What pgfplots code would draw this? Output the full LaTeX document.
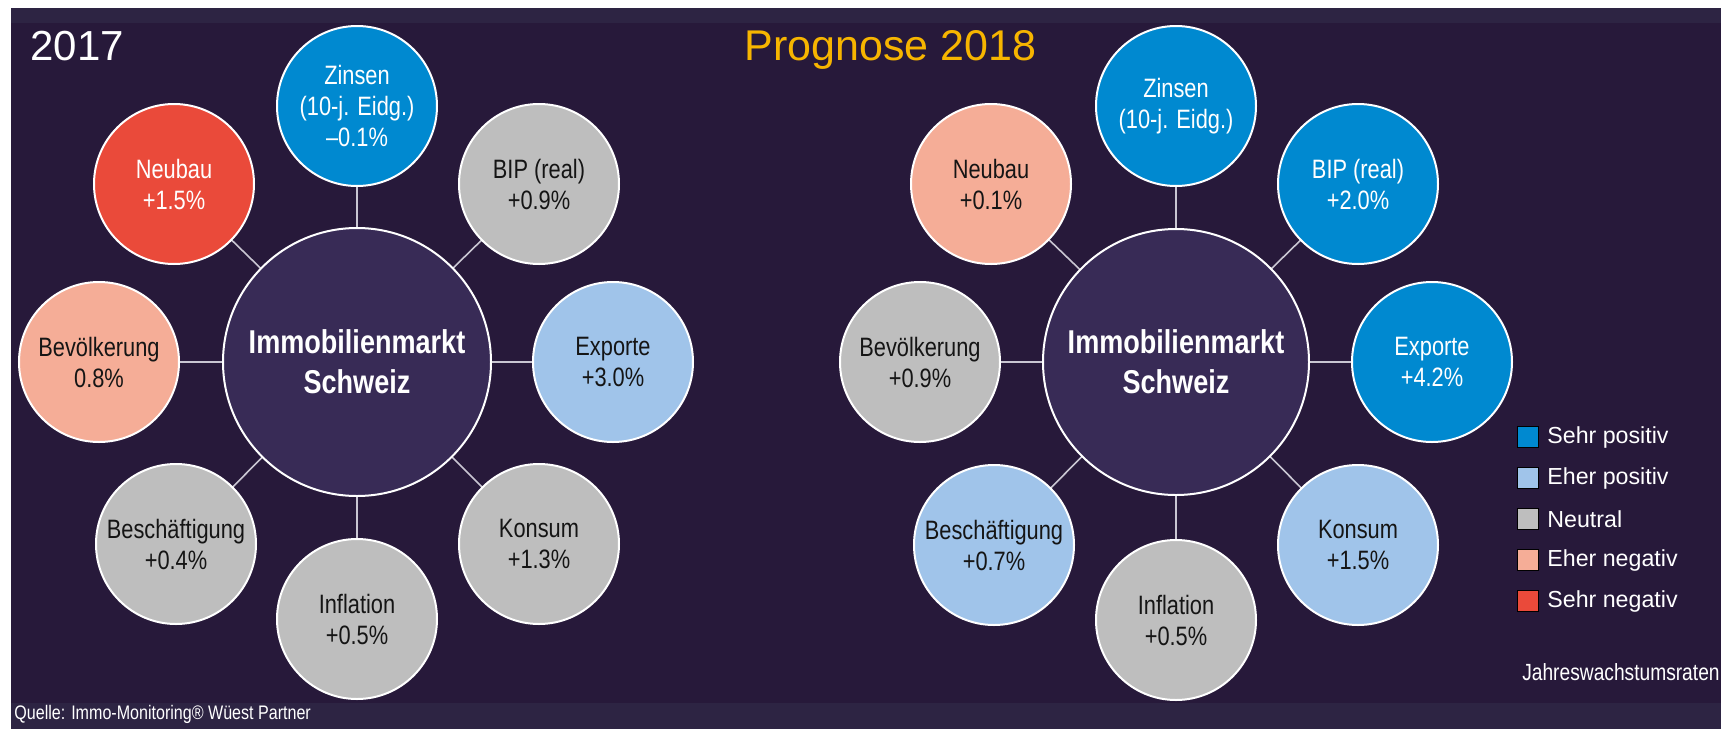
\documentclass[border=0pt]{standalone}
\usepackage{fontspec}
\setmainfont{Liberation Sans}
\newfontfamily\cond{Liberation Sans}[FakeStretch=0.82]
\usepackage{pgfplots}
\pgfplotsset{compat=1.18}
\definecolor{bg}{HTML}{27193A}
\definecolor{band}{HTML}{2D2443}
\definecolor{hub}{HTML}{382B56}
\definecolor{sehrpos}{HTML}{0089D0}
\definecolor{eherpos}{HTML}{A0C4EA}
\definecolor{neutral}{HTML}{BEBEBE}
\definecolor{eherneg}{HTML}{F5AD97}
\definecolor{sehrneg}{HTML}{EA4A3A}
\definecolor{prog}{HTML}{F7B500}
\definecolor{linec}{HTML}{C9C6D2}
\definecolor{dark}{HTML}{151515}
\newcommand{\sat}[5]{%
  \addplot[only marks, mark=*, mark size=40pt, mark options={fill=#3, draw=white, line width=1pt}] coordinates {(#1,#2)};
  \node[text=#4, align=center, font=\cond\fontsize{13.3}{15.5}\selectfont] at (axis cs:#1,#2) {#5};
}
\newcommand{\spoke}[4]{%
  \addplot[linec, line width=0.8pt] coordinates {(#1,#2) (#3,#4)};
}
\newcommand{\legitem}[3]{%
  \addplot[only marks, mark=square*, mark size=5.2pt, mark options={fill=#2, draw=none}] coordinates {(1527.5,#1)};
  \node[anchor=west, text=white, font=\fontsize{11.6}{13}\selectfont, inner sep=0pt] at (axis cs:1547,#1) {#3};
}
\begin{document}
\begin{tikzpicture}
\begin{axis}[
  width=860.5pt, height=364.5pt, scale only axis,
  xmin=0, xmax=1721, ymin=0, ymax=729, y dir=reverse,
  axis line style={draw=none}, ticks=none, clip=false, clip marker paths=true,
]
% backgrounds
\addplot[fill=white, draw=none] coordinates {(0,0) (1721,0) (1721,729) (0,729)} -- cycle;
\addplot[fill=bg, draw=none] coordinates {(11,8) (1721,8) (1721,729) (11,729)} -- cycle;
\addplot[fill=band, draw=none] coordinates {(11,8) (1721,8) (1721,23) (11,23)} -- cycle;
\addplot[fill=band, draw=none] coordinates {(11,703) (1721,703) (1721,729) (11,729)} -- cycle;

% ---------- 2017 ----------
\spoke{357}{362}{357}{106}
\spoke{357}{362}{174}{184}
\spoke{357}{362}{539}{184}
\spoke{357}{362}{99}{362}
\spoke{357}{362}{613}{362}
\spoke{357}{362}{176}{544}
\spoke{357}{362}{539}{544}
\spoke{357}{362}{357}{619}
\addplot[only marks, mark=*, mark size=67pt, mark options={fill=hub, draw=white, line width=1pt}] coordinates {(357,362)};
\node[text=white, align=center, font=\cond\bfseries\fontsize{16.5}{20}\selectfont] at (axis cs:357,362) {Immobilienmarkt\\Schweiz};
\sat{357}{106}{sehrpos}{white}{Zinsen\\(10-j. Eidg.)\\–0.1\%}
\sat{174}{184}{sehrneg}{white}{Neubau\\+1.5\%}
\sat{539}{184}{neutral}{dark}{BIP (real)\\+0.9\%}
\sat{99}{362}{eherneg}{dark}{Bevölkerung\\0.8\%}
\sat{613}{362}{eherpos}{dark}{Exporte\\+3.0\%}
\sat{176}{544}{neutral}{dark}{Beschäftigung\\+0.4\%}
\sat{539}{544}{neutral}{dark}{Konsum\\+1.3\%}
\sat{357}{619}{neutral}{dark}{Inflation\\+0.5\%}

% ---------- Prognose 2018 ----------
\spoke{1176}{362}{1176}{106}
\spoke{1176}{362}{991}{184}
\spoke{1176}{362}{1358}{184}
\spoke{1176}{362}{920}{362}
\spoke{1176}{362}{1432}{362}
\spoke{1176}{362}{994}{545}
\spoke{1176}{362}{1358}{545}
\spoke{1176}{362}{1176}{620}
\addplot[only marks, mark=*, mark size=66.5pt, mark options={fill=hub, draw=white, line width=1pt}] coordinates {(1176,362)};
\node[text=white, align=center, font=\cond\bfseries\fontsize{16.5}{20}\selectfont] at (axis cs:1176,362) {Immobilienmarkt\\Schweiz};
\sat{1176}{106}{sehrpos}{white}{Zinsen\\(10-j. Eidg.)}
\sat{991}{184}{eherneg}{dark}{Neubau\\+0.1\%}
\sat{1358}{184}{sehrpos}{white}{BIP (real)\\+2.0\%}
\sat{920}{362}{neutral}{dark}{Bevölkerung\\+0.9\%}
\sat{1432}{362}{sehrpos}{white}{Exporte\\+4.2\%}
\sat{994}{545}{eherpos}{dark}{Beschäftigung\\+0.7\%}
\sat{1358}{545}{eherpos}{dark}{Konsum\\+1.5\%}
\sat{1176}{620}{neutral}{dark}{Inflation\\+0.5\%}

% titles
\node[anchor=base west, text=white, font=\fontsize{21}{25}\selectfont, inner sep=0pt] at (axis cs:30,60) {2017};
\node[anchor=base west, text=prog, font=\fontsize{21.5}{25}\selectfont, inner sep=0pt] at (axis cs:744,60) {Prognose 2018};

% legend
\legitem{437}{sehrpos}{Sehr positiv}
\legitem{478}{eherpos}{Eher positiv}
\legitem{519}{neutral}{Neutral}
\legitem{560}{eherneg}{Eher negativ}
\legitem{601}{sehrneg}{Sehr negativ}
\node[anchor=base east, text=white, font=\cond\fontsize{11.7}{13}\selectfont, inner sep=0pt] at (axis cs:1720,680) {Jahreswachstumsraten};

% source
\node[anchor=base west, text=white, font=\cond\fontsize{9.8}{12}\selectfont, inner sep=0pt] at (axis cs:14,719) {Quelle: Immo-Monitoring® Wüest Partner};
\end{axis}
\end{tikzpicture}
\end{document}
